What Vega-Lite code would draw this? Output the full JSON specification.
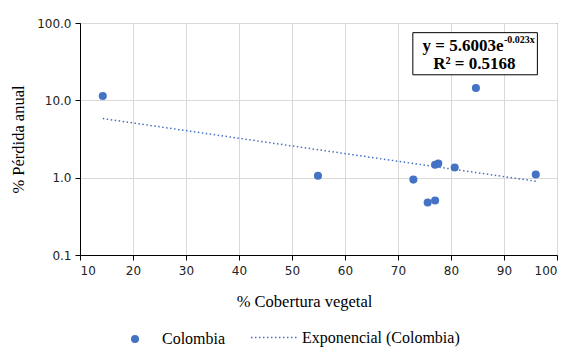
{
  "$schema": "https://vega.github.io/schema/vega-lite/v6.json",
  "width": 477,
  "height": 232,
  "autosize": "none",
  "padding": {"left": 80, "top": 23, "right": 13, "bottom": 92},
  "background": "white",
  "config": {
    "font": "Liberation Serif",
    "style": {
      "guide-label": {"font": "DejaVu Sans", "fill": "black"},
      "guide-title": {"font": "Liberation Serif", "fill": "black", "fontWeight": "normal"}
    },
    "view": {"stroke": "black", "strokeWidth": 1},
    "axis": {
      "labelFont": "DejaVu Sans",
      "labelFontSize": 12,
      "labelColor": "#222222",
      "titleFont": "Liberation Serif",
      "titleFontSize": 16.5,
      "titleFontWeight": "normal",
      "titleColor": "black",
      "domainColor": "black",
      "tickColor": "black",
      "tickSize": 5,
      "gridColor": "#d9d9d9",
      "gridWidth": 1
    },
    "legend": {
      "labelFont": "Liberation Serif",
      "labelFontSize": 16,
      "labelColor": "black"
    }
  },
  "layer": [
    {
      "data": {
        "values": [
          {"cobertura": 14.3, "perdida": 11.4, "serie": "Colombia"},
          {"cobertura": 54.9, "perdida": 1.06, "serie": "Colombia"},
          {"cobertura": 72.9, "perdida": 0.944, "serie": "Colombia"},
          {"cobertura": 75.6, "perdida": 0.478, "serie": "Colombia"},
          {"cobertura": 77.0, "perdida": 0.506, "serie": "Colombia"},
          {"cobertura": 77.0, "perdida": 1.47, "serie": "Colombia"},
          {"cobertura": 77.6, "perdida": 1.52, "serie": "Colombia"},
          {"cobertura": 80.7, "perdida": 1.35, "serie": "Colombia"},
          {"cobertura": 84.7, "perdida": 14.4, "serie": "Colombia"},
          {"cobertura": 96.0, "perdida": 1.10, "serie": "Colombia"}
        ]
      },
      "mark": {"type": "point", "filled": true, "size": 65, "opacity": 1},
      "encoding": {
        "x": {
          "field": "cobertura",
          "type": "quantitative",
          "scale": {"domain": [10, 100], "nice": false, "zero": false},
          "axis": {
            "values": [10, 20, 30, 40, 50, 60, 70, 80, 90, 100],
            "title": "% Cobertura vegetal",
            "labelFont": "DejaVu Sans",
            "titleFont": "Liberation Serif",
            "titlePadding": 17,
            "titleX": 224,
            "labelPadding": 5
          }
        },
        "y": {
          "field": "perdida",
          "type": "quantitative",
          "scale": {"type": "log", "domain": [0.1, 100], "nice": false},
          "axis": {
            "values": [0.1, 1, 10, 100],
            "format": ".1f",
            "title": "% Pérdida anual",
            "labelFont": "DejaVu Sans",
            "titleFont": "Liberation Serif",
            "titlePadding": 10,
            "labelPadding": 4
          }
        },
        "color": {
          "field": "serie",
          "type": "nominal",
          "scale": {"range": ["#4472C4"]},
          "legend": {
            "title": null,
            "orient": "none",
            "legendX": 47,
            "legendY": 308,
            "labelFont": "Liberation Serif",
            "symbolType": "circle",
            "symbolSize": 64,
            "labelOffset": 19
          }
        }
      }
    },
    {
      "data": {
        "values": [
          {"cobertura": 14.3, "perdida": 5.81, "tendencia": "Exponencial (Colombia)"},
          {"cobertura": 96.0, "perdida": 0.90, "tendencia": "Exponencial (Colombia)"}
        ]
      },
      "mark": {"type": "line", "color": "#4472C4", "strokeWidth": 1.5},
      "encoding": {
        "x": {"field": "cobertura", "type": "quantitative"},
        "y": {"field": "perdida", "type": "quantitative"},
        "strokeDash": {
          "field": "tendencia",
          "type": "nominal",
          "scale": {"range": [[1.5, 2.5]]},
          "legend": {
            "title": null,
            "orient": "none",
            "legendX": 170,
            "legendY": 290,
            "labelFont": "Liberation Serif",
            "symbolType": "stroke",
            "symbolSize": 2209,
            "symbolStrokeColor": "#4472C4",
            "symbolStrokeWidth": 1.5,
            "labelOffset": 3
          }
        }
      }
    },
    {
      "data": {"values": [{"x1": 72.8, "x2": 96.3, "y1": 21.4, "y2": 75}]},
      "mark": {"type": "rect", "fill": "white", "stroke": "black", "strokeWidth": 1},
      "encoding": {
        "x": {"field": "x1", "type": "quantitative"},
        "x2": {"field": "x2"},
        "y": {"field": "y1", "type": "quantitative"},
        "y2": {"field": "y2"}
      }
    },
    {
      "data": {"values": [{"x": 89.9, "y": 50, "t": "y = 5.6003e"}]},
      "mark": {"type": "text", "align": "right", "baseline": "middle", "fontSize": 17, "fontWeight": "bold", "font": "Liberation Serif", "color": "black"},
      "encoding": {
        "x": {"field": "x", "type": "quantitative"},
        "y": {"field": "y", "type": "quantitative"},
        "text": {"field": "t"}
      }
    },
    {
      "data": {"values": [{"x": 89.9, "y": 50, "t": "-0.023x"}]},
      "mark": {"type": "text", "align": "left", "baseline": "middle", "dy": -6, "dx": 0.5, "fontSize": 10, "fontWeight": "bold", "font": "Liberation Serif", "color": "black"},
      "encoding": {
        "x": {"field": "x", "type": "quantitative"},
        "y": {"field": "y", "type": "quantitative"},
        "text": {"field": "t"}
      }
    },
    {
      "data": {"values": [{"x": 84.4, "y": 29.4, "t": "R² = 0.5168"}]},
      "mark": {"type": "text", "align": "center", "baseline": "middle", "fontSize": 17, "fontWeight": "bold", "font": "Liberation Serif", "color": "black"},
      "encoding": {
        "x": {"field": "x", "type": "quantitative"},
        "y": {"field": "y", "type": "quantitative"},
        "text": {"field": "t"}
      }
    }
  ]
}
